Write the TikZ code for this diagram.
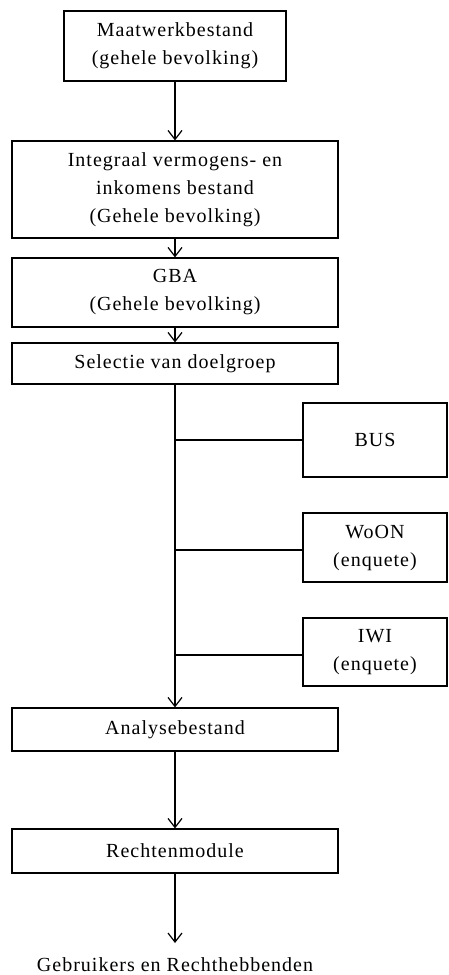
\documentclass[tikz,border=0pt]{standalone}
\usepackage{fontspec}
\setmainfont[LetterSpace=5]{Liberation Serif}
\usetikzlibrary{arrows.meta}
\begin{document}
\begin{tikzpicture}[x=1pt,y=-1pt,
  txt/.style={font=\fontsize{20}{28}\selectfont},
  box/.style={draw,line width=1.2pt,rectangle,align=center,inner sep=0pt,txt},
  conn/.style={line width=1.2pt},
  arr/.style={line width=1.2pt,-{Straight Barb[length=9pt,width=14pt,line width=1.2pt]}}]
\useasboundingbox (0,0) rectangle (448,975);
\node[box,minimum width=222pt,minimum height=70pt] (m) at (175,46) {Maatwerkbestand\\(gehele bevolking)};
\node[box,minimum width=326pt,minimum height=97pt] (i) at (175,189.5) {Integraal vermogens- en\\inkomens bestand\\(Gehele bevolking)};
\node[box,minimum width=326pt,minimum height=69pt] (g) at (175,292.5) {GBA\\(Gehele bevolking)};
\node[box,minimum width=326pt,minimum height=41pt] (s) at (175,363.5) {Selectie van doelgroep};
\node[box,minimum width=144pt,minimum height=74pt] (bus) at (375,440) {BUS};
\node[box,minimum width=144pt,minimum height=69pt] (woon) at (375,547.5) {WoON\\(enquete)};
\node[box,minimum width=144pt,minimum height=68pt] (iwi) at (375,652) {IWI\\(enquete)};
\node[box,minimum width=326pt,minimum height=43pt] (a) at (175,729.5) {Analysebestand};
\node[box,minimum width=326pt,minimum height=44pt] (r) at (175,851) {Rechtenmodule};
\node[txt,inner sep=0pt] (u) at (175,965) {Gebruikers en Rechthebbenden};
\coordinate (jb) at (175,440);
\coordinate (jw) at (175,550);
\coordinate (ji) at (175,655);
\coordinate (ue) at (175,943);
\draw[arr] (m) -- (i);
\draw[arr] (i) -- (g);
\draw[arr] (g) -- (s);
\draw[arr] (s) -- (a);
\draw[arr] (a) -- (r);
\draw[arr] (r.south) -- (ue);
\draw[conn] (jb) -- (bus.west);
\draw[conn] (jw) -- ([yshift=-2.5pt]woon.west);
\draw[conn] (ji) -- ([yshift=-3pt]iwi.west);
\end{tikzpicture}
\end{document}
